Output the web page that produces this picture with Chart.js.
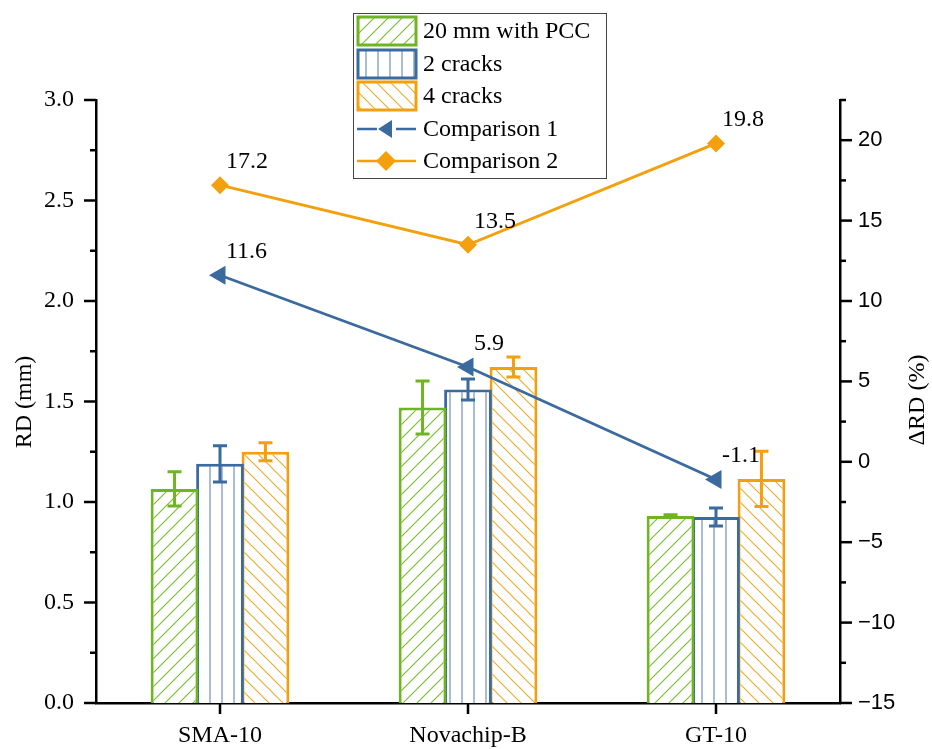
<!DOCTYPE html>
<html>
<head>
<meta charset="utf-8">
<script src="https://cdn.jsdelivr.net/npm/chart.js@4.4.0/dist/chart.umd.min.js"></script>
<style>
  html, body { margin: 0; padding: 0; background: #fff; }
  canvas { display: block; }
</style>
</head>
<body>
<canvas id="myChart" width="932" height="749"></canvas>
<script>
// values
const categories = ['SMA-10', 'Novachip-B', 'GT-10'];
const pcc20 = [1.065, 1.47, 0.93];
const pcc20Err = [0.085, 0.132, 0.006];
const cracks2 = [1.19, 1.56, 0.925];
const cracks2Err = [0.09, 0.052, 0.045];
const cracks4 = [1.25, 1.672, 1.115];
const cracks4Err = [0.045, 0.05, 0.137];
const comparison1 = [11.6, 5.9, -1.1];
const comparison2 = [17.2, 13.5, 19.8];
const comparisonLabels1 = ['11.6', '5.9', '-1.1'];
const comparisonLabels2 = ['17.2', '13.5', '19.8'];

const GREEN = '#6fb423';
const BLUE = '#3a6a9e';
const BLUE_LIGHT = '#94acc9';
const ORANGE = '#f4a00d';
const SERIF = '"Liberation Serif", "Times New Roman", serif';
const SANS = '"Liberation Sans", Arial, sans-serif';

function hatch(kind, color) {
  const c = document.createElement('canvas');
  const s = kind === 'v' ? 12 : 14;
  c.width = s;
  c.height = s;
  const g = c.getContext('2d');
  g.fillStyle = '#ffffff';
  g.fillRect(0, 0, s, s);
  g.strokeStyle = color;
  g.lineWidth = kind === 'v' ? 1.6 : 1.2;
  g.beginPath();
  if (kind === 'v') {
    g.moveTo(6, 0); g.lineTo(6, s);
  } else if (kind === 'up') {
    g.moveTo(-2, s + 2); g.lineTo(s + 2, -2);
    g.moveTo(-2, 2); g.lineTo(2, -2);
    g.moveTo(s - 2, s + 2); g.lineTo(s + 2, s - 2);
  } else {
    g.moveTo(-2, -2); g.lineTo(s + 2, s + 2);
    g.moveTo(s - 2, -2); g.lineTo(s + 2, 2);
    g.moveTo(-2, s - 2); g.lineTo(2, s + 2);
  }
  g.stroke();
  return g.createPattern(c, 'repeat');
}

const greenFill = hatch('up', '#7dbf3a');
const blueFill = hatch('v', BLUE_LIGHT);
const orangeFill = hatch('down', '#f5ac2e');

const errors = { 2: pcc20Err, 3: cracks2Err, 4: cracks4Err };
const lineLabels = { 0: comparisonLabels2, 1: comparisonLabels1 };

const errorBars = {
  id: 'errorBars',
  afterDatasetDraw(chart, args) {
    const err = errors[args.index];
    if (!err) return;
    const { ctx } = chart;
    const y = chart.scales.y;
    const ds = chart.data.datasets[args.index];
    ctx.save();
    ctx.strokeStyle = ds.borderColor;
    ctx.lineWidth = 3;
    args.meta.data.forEach((bar, i) => {
      const v = ds.data[i];
      const top = y.getPixelForValue(v + err[i]);
      const bot = y.getPixelForValue(v - err[i]);
      ctx.beginPath();
      ctx.moveTo(bar.x, top); ctx.lineTo(bar.x, bot);
      ctx.moveTo(bar.x - 7, top); ctx.lineTo(bar.x + 7, top);
      ctx.moveTo(bar.x - 7, bot); ctx.lineTo(bar.x + 7, bot);
      ctx.stroke();
    });
    ctx.restore();
  },
};

function line(ctx, x1, y1, x2, y2) {
  ctx.beginPath();
  ctx.moveTo(x1, y1);
  ctx.lineTo(x2, y2);
  ctx.stroke();
}

const decorations = {
  id: 'decorations',
  afterDraw(chart) {
    const { ctx, chartArea: a } = chart;
    const { x, y, y2 } = chart.scales;
    ctx.save();

    // tick marks
    ctx.strokeStyle = '#000';
    ctx.lineWidth = 2.5;
    y.ticks.forEach((t) => {
      const py = y.getPixelForValue(t.value);
      line(ctx, a.left - (t.label ? 12 : 6), py, a.left, py);
    });
    y2.ticks.forEach((t) => {
      const py = y2.getPixelForValue(t.value);
      line(ctx, a.right, py, a.right + (t.label ? 12 : 6), py);
    });
    x.ticks.forEach((t, i) => {
      const px = x.getPixelForTick(i);
      line(ctx, px, a.bottom, px, a.bottom + 11);
    });

    // value labels next to the line points
    ctx.fillStyle = '#000';
    ctx.font = '24px ' + SERIF;
    ctx.textAlign = 'left';
    ctx.textBaseline = 'alphabetic';
    [0, 1].forEach((di) => {
      chart.getDatasetMeta(di).data.forEach((pt, i) => {
        ctx.fillText(lineLabels[di][i], pt.x + 6, pt.y - 17);
      });
    });

    // axis titles
    ctx.textAlign = 'center';
    ctx.textBaseline = 'middle';
    ctx.save();
    ctx.translate(25, 402);
    ctx.rotate(-Math.PI / 2);
    ctx.fillText('RD (mm)', 0, 0);
    ctx.restore();
    ctx.save();
    ctx.translate(918, 400);
    ctx.rotate(-Math.PI / 2);
    ctx.fillText('\u0394RD (%)', 0, 0);
    ctx.restore();

    // legend
    ctx.fillStyle = '#fff';
    ctx.fillRect(353, 13, 253, 165);
    ctx.strokeStyle = '#444';
    ctx.lineWidth = 1;
    ctx.strokeRect(353.5, 13.5, 253, 165);
    const boxes = [
      [greenFill, GREEN, '20 mm with PCC'],
      [blueFill, BLUE, '2 cracks'],
      [orangeFill, ORANGE, '4 cracks'],
    ];
    const rows = [31, 64, 96, 129, 161];
    boxes.forEach((b, i) => {
      const cy = rows[i];
      ctx.fillStyle = b[0];
      ctx.fillRect(358, cy - 14, 58, 28);
      ctx.strokeStyle = b[1];
      ctx.lineWidth = 3;
      ctx.strokeRect(358, cy - 14, 58, 28);
      ctx.fillStyle = '#000';
      ctx.textAlign = 'left';
      ctx.fillText(b[2], 423, cy + 1);
    });
    // Comparison 1
    let cy = rows[3];
    ctx.strokeStyle = BLUE;
    ctx.lineWidth = 2.5;
    line(ctx, 357, cy, 377, cy);
    line(ctx, 396, cy, 416, cy);
    ctx.fillStyle = BLUE;
    ctx.beginPath();
    ctx.moveTo(378, cy);
    ctx.lineTo(392, cy - 9);
    ctx.lineTo(392, cy + 9);
    ctx.closePath();
    ctx.fill();
    ctx.fillStyle = '#000';
    ctx.fillText('Comparison 1', 423, cy + 1);
    // Comparison 2
    cy = rows[4];
    ctx.strokeStyle = ORANGE;
    line(ctx, 357, cy, 416, cy);
    ctx.fillStyle = ORANGE;
    ctx.beginPath();
    ctx.moveTo(386, cy - 10);
    ctx.lineTo(396, cy);
    ctx.lineTo(386, cy + 10);
    ctx.lineTo(376, cy);
    ctx.closePath();
    ctx.fill();
    ctx.fillStyle = '#000';
    ctx.fillText('Comparison 2', 423, cy + 1);

    ctx.restore();
  },
};

const ctx = document.querySelector('#myChart');
// eslint-disable-next-line no-unused-vars
const rdChart = new Chart(ctx, {
  type: 'bar',
  data: {
    labels: categories,
    datasets: [
      {
        type: 'line',
        label: 'Comparison 2',
        data: comparison2,
        yAxisID: 'y2',
        order: 0,
        borderColor: ORANGE,
        backgroundColor: ORANGE,
        borderWidth: 2.8,
        pointStyle: 'rectRot',
        pointRadius: 9,
        pointBorderWidth: 0,
      },
      {
        type: 'line',
        label: 'Comparison 1',
        data: comparison1,
        yAxisID: 'y2',
        order: 0,
        borderColor: BLUE,
        backgroundColor: BLUE,
        borderWidth: 2.8,
        pointStyle: 'triangle',
        pointRotation: -90,
        pointRadius: 11,
        pointBorderWidth: 0,
      },
      {
        label: '20 mm with PCC',
        data: pcc20,
        yAxisID: 'y',
        order: 1,
        backgroundColor: greenFill,
        borderColor: GREEN,
        borderWidth: 3,
      },
      {
        label: '2 cracks',
        data: cracks2,
        yAxisID: 'y',
        order: 1,
        backgroundColor: blueFill,
        borderColor: BLUE,
        borderWidth: 3,
      },
      {
        label: '4 cracks',
        data: cracks4,
        yAxisID: 'y',
        order: 1,
        backgroundColor: orangeFill,
        borderColor: ORANGE,
        borderWidth: 3,
      },
    ],
  },
  options: {
    responsive: false,
    animation: false,
    layout: { padding: { top: 100, left: 0, right: 0, bottom: 0 } },
    datasets: {
      bar: { barPercentage: 1.05, categoryPercentage: 0.55 },
    },
    plugins: {
      legend: { display: false },
      tooltip: { enabled: false },
    },
    scales: {
      x: {
        grid: { display: false },
        border: { display: true, color: '#000', width: 2.5 },
        ticks: { color: '#000', font: { family: SERIF, size: 24 }, padding: 10 },
        afterFit(scale) { scale.height = 46; },
      },
      y: {
        position: 'left',
        min: 0,
        max: 3,
        grid: { display: false },
        border: { display: true, color: '#000', width: 2.5 },
        ticks: {
          stepSize: 0.25,
          autoSkip: false,
          color: '#000',
          padding: 14,
          font: { family: SERIF, size: 24 },
          callback: (v) => (v % 0.5 === 0 ? v.toFixed(1) : ''),
        },
        afterFit(scale) { scale.width = 96; },
      },
      y2: {
        position: 'right',
        min: -15,
        max: 22.5,
        grid: { display: false },
        border: { display: true, color: '#000', width: 2.5 },
        ticks: {
          stepSize: 2.5,
          autoSkip: false,
          color: '#000',
          padding: 10,
          font: { family: SANS, size: 22 },
          callback: (v) => {
            if (v % 5 !== 0) return '';
            return v < 0 ? '\u2212' + Math.abs(v) : String(v);
          },
        },
        afterFit(scale) { scale.width = 92; },
      },
    },
  },
  plugins: [errorBars, decorations],
});
</script>
</body>
</html>
